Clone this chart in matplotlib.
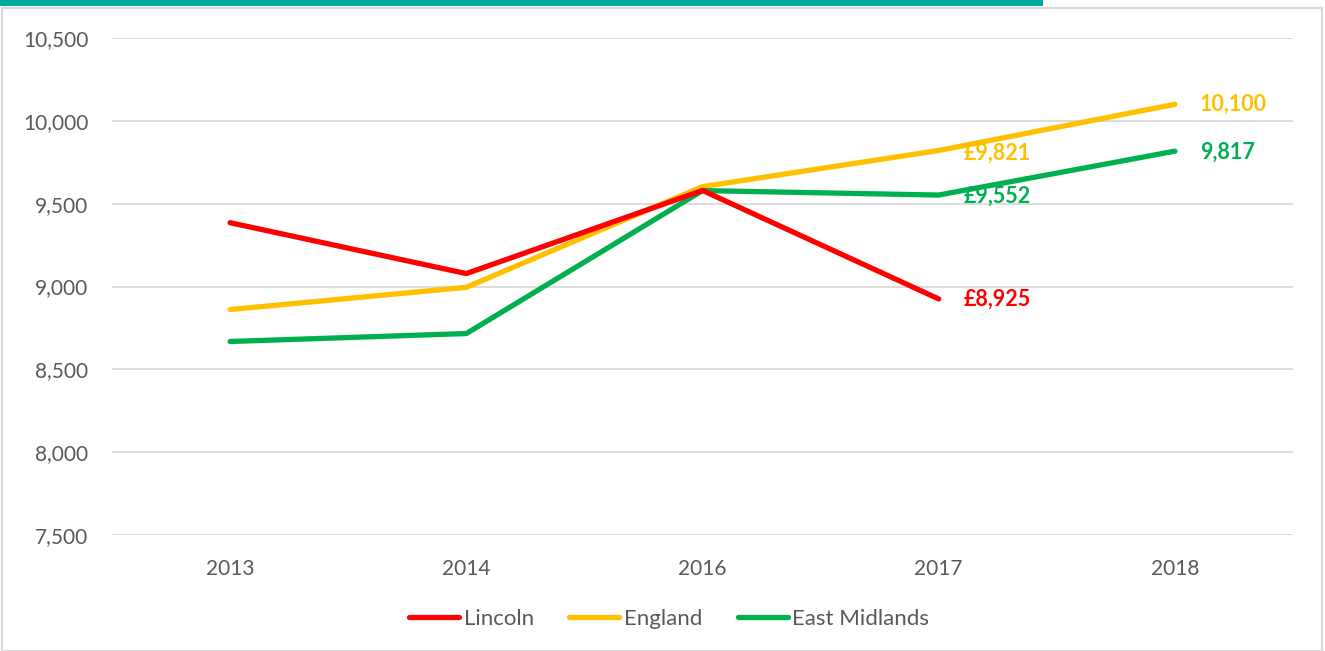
import matplotlib
matplotlib.use("Agg")
import matplotlib.pyplot as plt
from matplotlib.patches import Rectangle

plt.rcParams["font.family"] = ["Lato", "DejaVu Sans"]

years = ["2013", "2014", "2016", "2017", "2018"]
lincoln = [9385, 9078, 9580, 8925]
england = [8861, 8995, 9603, 9821, 10100]
east_midlands = [8668, 8716, 9579, 9552, 9817]

yticks = [7500, 8000, 8500, 9000, 9500, 10000, 10500]

RED = "#FF0000"
ORANGE = "#FFC000"
GREEN = "#00B050"
GREY = "#595959"

fig = plt.figure(figsize=(13.25, 6.51), dpi=100)
ax = fig.add_axes([112 / 1325, 1 - 535 / 651, (1293 - 112) / 1325, (535 - 38) / 651])

x = list(range(len(years)))
ax.plot(x[:len(lincoln)], lincoln, color=RED, lw=3.8, solid_capstyle="round",
        label="Lincoln", zorder=4)
ax.plot(x, england, color=ORANGE, lw=3.8, solid_capstyle="round",
        label="England", zorder=3)
ax.plot(x, east_midlands, color=GREEN, lw=3.8, solid_capstyle="round",
        label="East Midlands", zorder=3)

ax.set_xlim(-0.5, len(years) - 0.5)
ax.set_ylim(7500, 10500)
ax.set_xticks(x)
ax.set_xticklabels(years)
ax.set_yticks(yticks)
ax.set_yticklabels([f"{v:,}" for v in yticks])
ax.tick_params(length=0, labelsize=15, colors=GREY)
ax.tick_params(axis="x", pad=17)
ax.tick_params(axis="y", pad=17)
ax.grid(axis="y", color="#D9D9D9", lw=1.3)
ax.set_axisbelow(True)
for s in ax.spines.values():
    s.set_visible(False)

# data labels
lab = dict(textcoords="offset points", fontsize=15.5, fontweight="bold", va="center")
ax.annotate(f"£{lincoln[3]:,}", (3, lincoln[3]), xytext=(18, 0), color=RED, **lab)
ax.annotate(f"£{england[3]:,}", (3, england[3]), xytext=(18, -2), color=ORANGE, **lab)
ax.annotate(f"£{east_midlands[3]:,}", (3, east_midlands[3]), xytext=(18, -1), color=GREEN, **lab)
ax.annotate(f"{england[4]:,}", (4, england[4]), xytext=(18, 0), color=ORANGE, **lab)
ax.annotate(f"{east_midlands[4]:,}", (4, east_midlands[4]), xytext=(18, -1), color=GREEN, **lab)

leg = fig.legend(loc="center", bbox_to_anchor=(0.505, 1 - 619 / 651), ncol=3, frameon=False,
                 fontsize=16, handlelength=2.25, handletextpad=0.2, columnspacing=1.6)
for t in leg.get_texts():
    t.set_color(GREY)

# chart frame and top accent bar
fig.patches.append(Rectangle((2 / 1325, 0), 1320 / 1325, 1 - 8 / 651, transform=fig.transFigure,
                             fill=False, edgecolor="#D9D9D9", lw=1.5))
fig.patches.append(Rectangle((0, 1 - 6 / 651), 1043 / 1325, 6 / 651, transform=fig.transFigure,
                             facecolor="#00A99D", edgecolor="none"))

fig.savefig("out.png", dpi=100)
